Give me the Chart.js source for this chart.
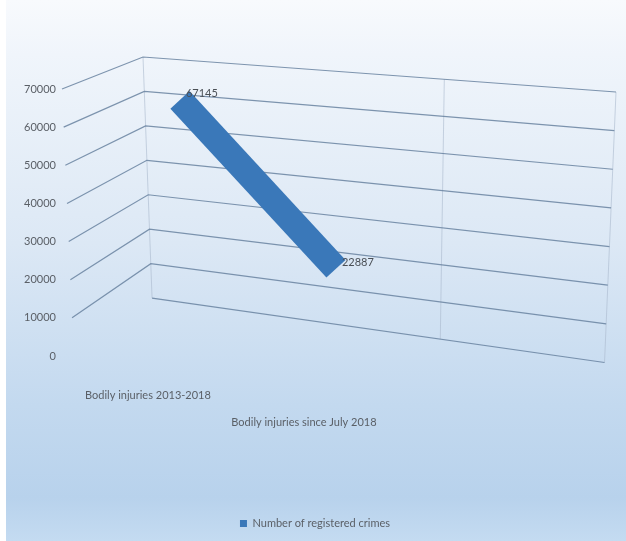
<!DOCTYPE html>
<html>
<head>
<meta charset="utf-8">
<script src="https://cdn.jsdelivr.net/npm/chart.js@4"></script>
<style>
  html, body { margin: 0; padding: 0; background: #fff; }
  #wrap { width: 626px; height: 541px; position: relative; }
</style>
</head>
<body>
<div id="wrap"><canvas id="crimes"></canvas></div>
<script>
// data
const categories = ['Bodily injuries 2013-2018', 'Bodily injuries since July 2018'];
const crimeCounts = [67145, 22887];
const seriesName = 'Number of registered crimes';
const yTickValues = [0, 10000, 20000, 30000, 40000, 50000, 60000, 70000];

const textColor = '#5a5f66';
const ribbonColor = '#3a78b9';

// background gradient, white strip on the left
const backdrop = {
    id: 'backdrop',
    beforeDraw(chart) {
        const { ctx, width, height } = chart;
        ctx.save();
        ctx.fillStyle = '#ffffff';
        ctx.fillRect(0, 0, width, height);
        const g = ctx.createLinearGradient(0, 0, 0, height);
        g.addColorStop(0, '#f8fafd');
        g.addColorStop(0.1, '#f0f5fb');
        g.addColorStop(0.45, '#dce8f5');
        g.addColorStop(0.75, '#c3d9ef');
        g.addColorStop(0.92, '#b8d2ec');
        g.addColorStop(1, '#c4dbf1');
        ctx.fillStyle = g;
        ctx.fillRect(6, 0, width - 6, height);
        ctx.restore();
    }
};

// fake 3d walls: side wall + back wall gridlines
const walls = {
    id: 'walls',
    beforeDatasetsDraw(chart) {
        const { ctx, chartArea: a, scales: { y } } = chart;
        const h = a.bottom - a.top;
        const corner = (d) => [a.left + 81 + d * 0.034, a.top - 32 + d * 0.903];
        const edge = (d) => [a.right - d * 0.043, a.top + 3 + d * 1.013];
        ctx.save();

        // faint verticals on back wall
        ctx.strokeStyle = 'rgba(170,185,205,0.6)';
        ctx.lineWidth = 1;
        const c0 = corner(0), c1 = corner(h), e0 = edge(0), e1 = edge(h);
        [0, 0.637, 1].forEach(f => {
            ctx.beginPath();
            ctx.moveTo(c0[0] + (e0[0] - c0[0]) * f, c0[1] + (e0[1] - c0[1]) * f);
            ctx.lineTo(c1[0] + (e1[0] - c1[0]) * f, c1[1] + (e1[1] - c1[1]) * f);
            ctx.stroke();
        });

        ctx.strokeStyle = 'rgba(105,130,160,0.85)';
        ctx.lineWidth = 1.2;
        y.ticks.forEach(t => {
            const py = y.getPixelForValue(t.value);
            const d = py - a.top;
            const b = corner(d), r = edge(d);
            ctx.beginPath();
            if (t.value > 0) {
                ctx.moveTo(a.left + d * 0.044, py);
                ctx.lineTo(b[0], b[1]);
            } else {
                ctx.moveTo(b[0], b[1]);
            }
            ctx.lineTo(r[0], r[1]);
            ctx.stroke();
        });
        ctx.restore();
    }
};

// value labels next to the points
const valueLabels = {
    id: 'valueLabels',
    afterDatasetsDraw(chart) {
        const { ctx } = chart;
        const meta = chart.getDatasetMeta(0);
        ctx.save();
        ctx.font = '11px Lato, "Open Sans", sans-serif';
        ctx.fillStyle = '#4a4f55';
        ctx.textAlign = 'left';
        ctx.textBaseline = 'middle';
        meta.data.forEach((pt, i) => {
            ctx.fillText(String(crimeCounts[i]), pt.x + 6, pt.y - 6);
        });
        ctx.restore();
    }
};

new Chart(document.getElementById('crimes').getContext('2d'), {
    type: 'line',
    data: {
        datasets: [{
            label: seriesName,
            data: crimeCounts.map((v, i) => ({ x: i, y: v })),
            borderColor: ribbonColor,
            backgroundColor: ribbonColor,
            borderWidth: 26,
            borderCapStyle: 'butt',
            pointRadius: 0,
            pointHoverRadius: 0
        }]
    },
    options: {
        responsive: true,
        maintainAspectRatio: false,
        animation: false,
        layout: { padding: { top: 89, right: 10, bottom: 2, left: 14 } },
        plugins: {
            tooltip: { enabled: false },
            legend: {
                position: 'bottom',
                labels: {
                    boxWidth: 7,
                    boxHeight: 7,
                    padding: 10,
                    color: textColor,
                    font: { family: 'Lato, "Open Sans", sans-serif', size: 11 },
                    generateLabels: (chart) =>
                        Chart.defaults.plugins.legend.labels.generateLabels(chart)
                            .map(l => ({ ...l, lineWidth: 0 }))
                }
            }
        },
        scales: {
            x: {
                type: 'linear',
                min: -0.756,
                max: 2.795,
                grid: { display: false, drawTicks: false },
                border: { display: false },
                afterBuildTicks: (scale) => { scale.ticks = categories.map((c, i) => ({ value: i })); },
                afterFit: (scale) => { scale.height = 152; },
                ticks: {
                    autoSkip: false,
                    maxRotation: 0,
                    minRotation: 0,
                    padding: 33,
                    labelOffset: -32,
                    color: textColor,
                    font: { family: 'Lato, "Open Sans", sans-serif', size: 11 },
                    callback: (v) => Array(v * 2).fill('').concat(categories[v])
                }
            },
            y: {
                min: 0,
                max: 70000,
                grid: { display: false, drawTicks: false },
                border: { display: false },
                afterBuildTicks: (scale) => { scale.ticks = yTickValues.map(v => ({ value: v })); },
                afterFit: (scale) => { scale.width = 48; },
                ticks: {
                    padding: 6,
                    color: textColor,
                    font: { family: 'Lato, "Open Sans", sans-serif', size: 11 },
                    callback: (v) => String(v)
                }
            }
        }
    },
    plugins: [backdrop, walls, valueLabels]
});
</script>
</body>
</html>
